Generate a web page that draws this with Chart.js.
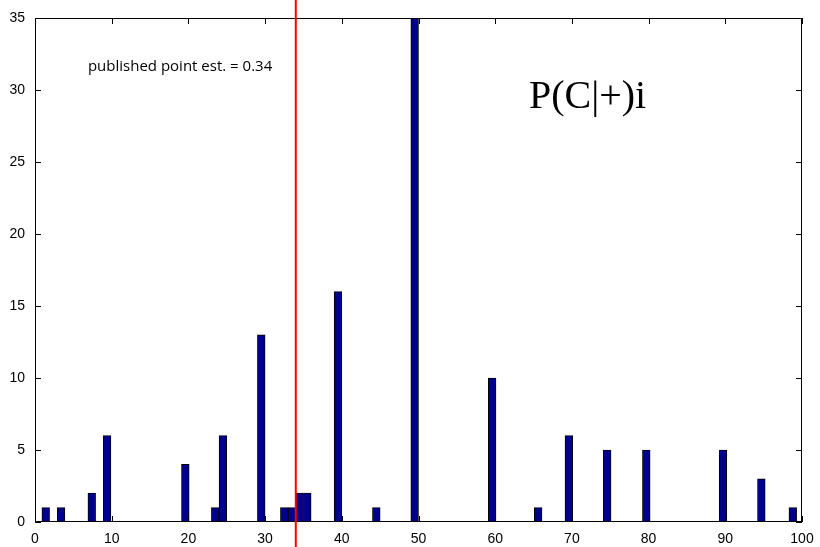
<!DOCTYPE html>
<html>
<head>
<meta charset="utf-8">
<script src="https://cdn.jsdelivr.net/npm/chart.js@4.4.0/dist/chart.umd.min.js"></script>
<style>
html, body { margin: 0; padding: 0; background: #fff; }
</style>
</head>
<body>
<canvas id="histChart" width="820" height="547"></canvas>
<script>
// Histogram bins (centre) and their counts
const binCentres = [1.4, 3.4, 7.4, 9.4, 19.6, 23.5, 24.5, 29.5, 32.5, 33.5, 34.5, 35.5,
                    39.5, 44.5, 49.5, 59.6, 65.6, 69.6, 74.6, 79.7, 89.7, 94.7, 98.8];
const counts     = [1, 1, 2, 6, 4, 1, 6, 13, 1, 1, 2, 2,
                    16, 1, 35, 10, 1, 6, 5, 5, 5, 3, 1];
const xTicks = [0, 10, 20, 30, 40, 50, 60, 70, 80, 90, 100];
const yTicks = [0, 5, 10, 15, 20, 25, 30, 35];
const publishedEstimate = 34;
const noteText = "published point est. = 0.34";
const titleText = "P(C|+)i";

const barColor = "#00008f";

// Matlab style box: ticks pointing inward on all four sides, red line, annotations
const matlabBox = {
    id: "matlabBox",
    afterDraw(chart) {
        const ctx = chart.ctx;
        const area = chart.chartArea;
        const xs = chart.scales.x;
        const ys = chart.scales.y;
        const tickLen = 6;

        ctx.save();
        ctx.strokeStyle = "#000";
        ctx.lineWidth = 1;
        ctx.strokeRect(area.left + 0.5, area.top + 0.5, area.width - 1, area.height - 1);

        ctx.beginPath();
        xTicks.forEach(function(v) {
            const px = Math.round(xs.getPixelForValue(v)) + 0.5;
            ctx.moveTo(px, area.bottom);
            ctx.lineTo(px, area.bottom - tickLen);
            ctx.moveTo(px, area.top);
            ctx.lineTo(px, area.top + tickLen);
        });
        yTicks.forEach(function(v) {
            const py = Math.round(ys.getPixelForValue(v)) + 0.5;
            ctx.moveTo(area.left, py);
            ctx.lineTo(area.left + tickLen, py);
            ctx.moveTo(area.right, py);
            ctx.lineTo(area.right - tickLen, py);
        });
        ctx.stroke();

        // red vertical line runs the full height of the figure
        const rx = xs.getPixelForValue(publishedEstimate);
        ctx.strokeStyle = "#ff0000";
        ctx.lineWidth = 2;
        ctx.beginPath();
        ctx.moveTo(rx, 0);
        ctx.lineTo(rx, chart.height);
        ctx.stroke();

        // annotations
        ctx.fillStyle = "#000";
        ctx.textBaseline = "middle";
        ctx.textAlign = "left";
        ctx.font = "15px 'Open Sans', 'Liberation Sans', sans-serif";
        ctx.fillText(noteText, xs.getPixelForValue(6.9), ys.getPixelForValue(31.6));
        ctx.font = "40px 'Liberation Serif', 'DejaVu Serif', serif";
        ctx.fillText(titleText, xs.getPixelForValue(64.4), ys.getPixelForValue(29.5));
        ctx.restore();
    }
};

new Chart(document.getElementById("histChart").getContext("2d"), {
    type: "bar",
    data: {
        datasets: [{
            data: binCentres.map(function(c, i) { return { x: c, y: counts[i] }; }),
            backgroundColor: barColor,
            borderColor: "#000",
            borderWidth: 1,
            barPercentage: 1,
            categoryPercentage: 1
        }]
    },
    options: {
        responsive: false,
        animation: false,
        layout: { padding: { top: 18, right: 18, left: 0, bottom: 0 } },
        plugins: {
            legend: { display: false },
            tooltip: { enabled: false }
        },
        scales: {
            x: {
                type: "linear",
                min: 0,
                max: 100,
                offset: false,
                grid: { display: false },
                border: { display: false },
                afterBuildTicks: function(s) { s.ticks = xTicks.map(function(v) { return { value: v }; }); },
                afterFit: function(s) { s.height = 25; },
                ticks: {
                    color: "#000",
                    padding: 1,
                    maxRotation: 0,
                    font: { family: "'Liberation Sans', Arial, sans-serif", size: 14 }
                }
            },
            y: {
                min: 0,
                max: 35,
                grid: { display: false },
                border: { display: false },
                afterBuildTicks: function(s) { s.ticks = yTicks.map(function(v) { return { value: v }; }); },
                afterFit: function(s) { s.width = 35; },
                ticks: {
                    color: "#000",
                    padding: 2,
                    font: { family: "'Liberation Sans', Arial, sans-serif", size: 14 }
                }
            }
        }
    },
    plugins: [matlabBox]
});
</script>
</body>
</html>
